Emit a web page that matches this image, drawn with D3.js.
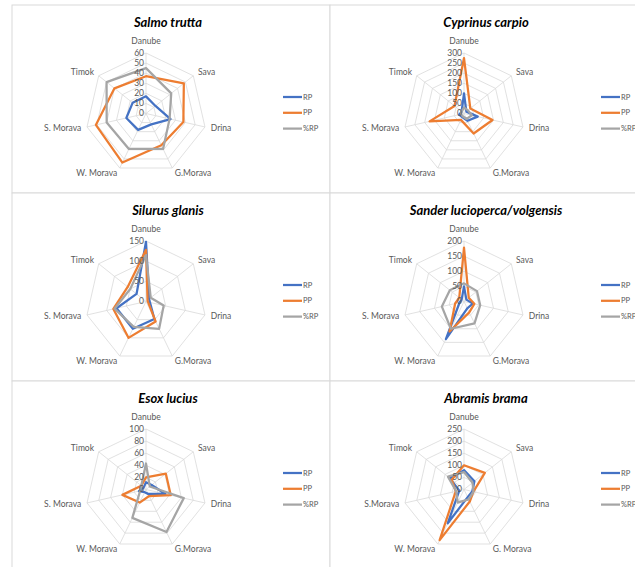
<!DOCTYPE html>
<html>
<head>
<meta charset="utf-8">
<script src="https://cdn.jsdelivr.net/npm/d3@7"></script>
<style>
  body { margin: 0; background: #fff; }
  svg { display: block; font-family: Lato, "Open Sans", sans-serif; }
</style>
</head>
<body>
<svg id="chart" width="635" height="567"></svg>
<script>
// fish species panels
var species = ["Salmo trutta", "Cyprinus carpio", "Silurus glanis",
  "Sander lucioperca/volgensis", "Esox lucius", "Abramis brama"];

var regions = ["Danube", "Sava", "Drina", "G.Morava", "W. Morava", "S. Morava", "Timok"];
var regionsBrama = ["Danube", "Sava", "Drina", "G. Morava", "W. Morava", "S.Morava", "Timok"];

var axisMax = [60, 300, 150, 200, 100, 250];
var axisStep = [10, 50, 50, 50, 20, 50];

var seriesNames = ["RP", "PP", "%RP"];

var rp = [
  [17, 12, 25, 12, 18, 20, 17],
  [100, 15, 70, 40, 20, 25, 15],
  [148, 10, 10, 48, 75, 75, 30],
  [50, 10, 30, 25, 138, 15, 10],
  [12, 12, 33, 8, 5, 12, 5],
  [80, 55, 35, 35, 155, 20, 75]
];
var pp = [
  [37, 48, 38, 35, 54, 51, 40],
  [275, 40, 145, 110, 35, 175, 60],
  [128, 5, 5, 55, 100, 83, 58],
  [178, 20, 35, 40, 110, 30, 20],
  [20, 42, 42, 12, 24, 40, 10],
  [100, 110, 40, 55, 232, 35, 65]
];
var pctRp = [
  [45, 32, 24, 39, 39, 40, 50],
  [30, 25, 40, 30, 15, 15, 15],
  [115, 15, 45, 75, 70, 80, 50],
  [60, 55, 55, 80, 100, 75, 60],
  [43, 8, 64, 78, 52, 10, 10],
  [72, 45, 40, 45, 60, 33, 85]
];

var colors = ["#4472C4", "#ED7D31", "#A5A5A5"];

var panelW = 318, panelH = 188;
var cx = 134, cy = 108.5, R = 60.5;

var svg = d3.select("#chart");

var angle = d3.scalePoint().domain(d3.range(7)).range([0, 2 * Math.PI * 6 / 7]);

species.forEach(function(name, p) {
  var col = p % 2, row = Math.floor(p / 2);
  var g = svg.append("g")
    .attr("transform", "translate(" + (12 + col * panelW) + "," + (5 + row * panelH) + ")");

  g.append("rect")
    .attr("width", panelW).attr("height", panelH)
    .style("fill", "#fff").style("stroke", "#d9d9d9").style("stroke-width", 1);

  g.append("text")
    .text(name)
    .attr("x", 156).attr("y", 22)
    .attr("text-anchor", "middle")
    .style("font-size", "13px").style("font-weight", "bold").style("font-style", "italic")
    .style("fill", "#000");

  var r = d3.scaleLinear().domain([0, axisMax[p]]).range([0, R]);
  var ticks = d3.range(0, axisMax[p] + axisStep[p] / 2, axisStep[p]);
  var plot = g.append("g").attr("transform", "translate(" + cx + "," + cy + ")");

  var ring = d3.lineRadial().angle(function(d, i) { return angle(i); })
    .radius(function(d) { return d; }).curve(d3.curveLinearClosed);

  // grid
  ticks.slice(1).forEach(function(t) {
    plot.append("path")
      .attr("d", ring(d3.range(7).map(function() { return r(t); })))
      .style("fill", "none").style("stroke", "#d9d9d9").style("stroke-width", 0.8);
  });
  d3.range(7).forEach(function(i) {
    plot.append("line")
      .attr("x1", 0).attr("y1", 0)
      .attr("x2", R * Math.sin(angle(i))).attr("y2", -R * Math.cos(angle(i)))
      .style("stroke", "#d9d9d9").style("stroke-width", 0.8);
  });

  // axis labels
  var labels = p === 5 ? regionsBrama : regions;
  labels.forEach(function(lab, i) {
    var a = angle(i), s = Math.sin(a), c = Math.cos(a);
    var t = plot.append("text").text(lab)
      .style("font-size", "8.5px").style("fill", "#595959");
    if (i === 0) {
      t.attr("x", 0).attr("y", -R - 9).attr("text-anchor", "middle");
    } else {
      t.attr("x", (R + 6) * s).attr("y", -(R + 6) * c)
        .attr("dy", "0.35em")
        .attr("text-anchor", s > 0 ? "start" : "end");
    }
  });

  // series
  [rp, pp, pctRp].forEach(function(series, k) {
    plot.append("path")
      .attr("d", ring(series[p].map(function(v) { return r(v); })))
      .style("fill", "none").style("stroke", colors[k]).style("stroke-width", 2.25)
      .style("stroke-linejoin", "round");
  });

  // tick labels on the Danube axis
  ticks.forEach(function(t) {
    plot.append("text").text(t)
      .attr("x", -2).attr("y", -r(t)).attr("dy", "0.35em")
      .attr("text-anchor", "end")
      .style("font-size", "8.5px").style("fill", "#595959");
  });

  // legend
  seriesNames.forEach(function(s, k) {
    var ly = 92 + k * 15.8;
    g.append("line")
      .attr("x1", 271).attr("x2", 290).attr("y1", ly).attr("y2", ly)
      .style("stroke", colors[k]).style("stroke-width", 2.25);
    g.append("text").text(s)
      .attr("x", 291).attr("y", ly).attr("dy", "0.35em")
      .style("font-size", "7.5px").style("fill", "#595959");
  });
});
</script>
</body>
</html>
